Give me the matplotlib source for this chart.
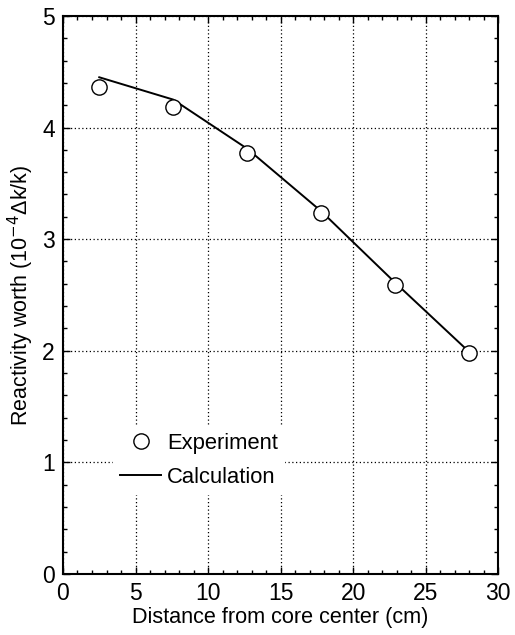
import numpy as np
import matplotlib.pyplot as plt
from matplotlib.ticker import MultipleLocator

plt.rcParams['font.family'] = ['Liberation Sans', 'DejaVu Sans']

# experiment points
x_exp = [2.5, 7.6, 12.7, 17.8, 22.9, 28.0]
y_exp = [4.36, 4.18, 3.77, 3.23, 2.59, 1.98]

# calculation curve
x_calc = [2.5, 7.6, 12.7, 17.8, 22.9, 28.0]
y_calc = [4.45, 4.25, 3.81, 3.25, 2.61, 1.99]

fig = plt.figure(figsize=(5.15, 6.35), dpi=100)
ax = fig.add_axes([0.1223, 0.096, 0.845, 0.879])

ax.plot(x_calc, y_calc, color='black', lw=1.4, label='Calculation', zorder=3)
ax.plot(x_exp, y_exp, 'o', color='black', mfc='white', mec='black', mew=1.0,
        ms=11, label='Experiment', zorder=4)

ax.set_xlim(0, 30)
ax.set_ylim(0, 5)
ax.xaxis.set_major_locator(MultipleLocator(5))
ax.xaxis.set_minor_locator(MultipleLocator(1))
ax.yaxis.set_major_locator(MultipleLocator(1))
ax.yaxis.set_minor_locator(MultipleLocator(0.2))
ax.tick_params(which='both', direction='in', top=True, right=True, width=1.0,
               labelsize=16.5, pad=6)
ax.tick_params(which='major', length=5)
ax.tick_params(which='minor', length=3)
for s in ax.spines.values():
    s.set_linewidth(1.5)

ax.grid(True, which='major', ls=(0, (1, 2)), color='black', lw=0.9)

ax.set_xlabel('Distance from core center (cm)', fontsize=15.6, labelpad=1)
ax.set_ylabel('Reactivity worth (10$^{-4}$\u0394k/k)', fontsize=15.5, labelpad=4)

h, l = ax.get_legend_handles_labels()
leg = ax.legend(h[::-1], l[::-1], loc='upper left', bbox_to_anchor=(0.09, 0.285),
                fontsize=15.8, frameon=True, facecolor='white', edgecolor='white',
                framealpha=1, fancybox=False, handlelength=1.9, handletextpad=0.25,
                borderpad=0.3, labelspacing=0.6)
leg.set_zorder(5)

fig.savefig('out.png', dpi=100)
